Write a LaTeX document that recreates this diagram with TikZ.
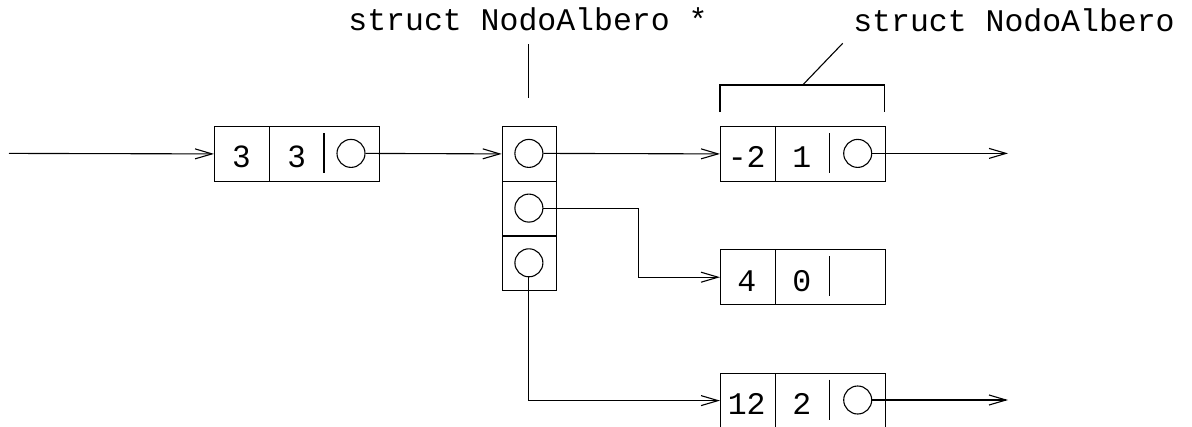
\documentclass[tikz,border=0pt]{standalone}
\usepackage{fontspec}
\usetikzlibrary{arrows.meta}
\newfontfamily\courfont{Liberation Mono}
\newfontfamily\helvfont{Liberation Sans}
\begin{document}
\begin{tikzpicture}[x=1pt,y=-1pt,line width=1.1pt,
  >={Straight Barb[length=17pt,width=10pt]},
  cell/.style={draw, minimum height=54.7pt, inner sep=0pt, anchor=north west},
  ptr/.style={draw, circle, minimum size=28pt, inner sep=0pt},
  val/.style={font=\courfont\fontsize{31.5}{36}\selectfont, anchor=base, inner sep=0pt},
  valsans/.style={font=\helvfont\fontsize{31}{36}\selectfont, anchor=base, inner sep=0pt},
  link/.style={->}]
\clip (0,0) rectangle (1192,426);
\fill[white] (0,0) rectangle (1192,426);

% left struct
\node[cell, minimum width=55.3pt] (L1) at (214,126) {};
\node[cell, minimum width=109.4pt] (L2) at (269.3,126) {};
\node[valsans] (L1t) at (241.6,167.3) {3};
\node[valsans] (L2t) at (296.7,167.3) {3};
\draw (324,133) -- (324,173);
\node[ptr] (L2p) at (351,153.4) {};

% pointer array
\node[cell, minimum width=54.3pt] (A1) at (501.7,126) {};
\node[cell, minimum width=54.3pt] (A2) at (501.7,180.7) {};
\node[cell, minimum width=54.3pt] (A3) at (501.7,235.4) {};
\node[ptr] (A1p) at (528.9,153.4) {};
\node[ptr] (A2p) at (528.9,208.1) {};
\node[ptr] (A3p) at (528.9,262.8) {};

% right struct 1
\node[cell, minimum width=55.3pt] (R1a) at (720,126) {};
\node[cell, minimum width=109.4pt] (R1b) at (775.3,126) {};
\node[val] (R1at) at (746.7,167.3) {-2};
\node[val] (R1bt) at (801.7,167.3) {1};
\draw (829.3,133) -- (829.3,173);
\node[ptr] (R1p) at (857.7,153.4) {};

% right struct 2
\node[cell, minimum width=55.3pt] (R2a) at (720,249.3) {};
\node[cell, minimum width=109.4pt] (R2b) at (775.3,249.3) {};
\node[val] (R2at) at (746.7,291) {4};
\node[val] (R2bt) at (801.7,291) {0};
\draw (829.3,256.3) -- (829.3,296.3);

% right struct 3
\node[cell, minimum width=55.3pt] (R3a) at (720,372.7) {};
\node[cell, minimum width=109.4pt] (R3b) at (775.3,372.7) {};
\node[val] (R3at) at (746.7,414.4) {12};
\node[val] (R3bt) at (801.7,414.4) {2};
\draw (829.3,379.7) -- (829.3,419.7);
\node[ptr] (R3p) at (857.7,400) {};

% labels
\node[val] (T1) at (528,30) {struct NodoAlbero *};
\node[val] (T2) at (1014,31) {struct NodoAlbero};
\coordinate (T1a) at (528.9,44);
\coordinate (T1b) at (528.9,98);
\draw (T1a) -- (T1b);
\draw (720,112) -- (720,85) -- (884.7,85) -- (884.7,112);
\coordinate (BM) at (802.7,85);
\coordinate (BT) at (842.7,43.3);
\draw (BM) -- (BT);

% connectors
\coordinate (IN) at (9,153.4);
\coordinate (OUT1) at (1008,153.4);
\coordinate (OUT3) at (1008,400);
\draw[link] (IN) -- (L1.west);
\draw[link] (L2p.east) -- (A1.west);
\draw[link] (A1p.east) -- (R1a.west);
\draw[link] (R1p.east) -- (OUT1);
\draw[link] (A2p.east) -- ++(95.4,0) |- (R2a.west);
\draw[link] (A3p.south) |- (R3a.west);
\draw[link] (R3p.east) -- (OUT3);
\end{tikzpicture}
\end{document}
